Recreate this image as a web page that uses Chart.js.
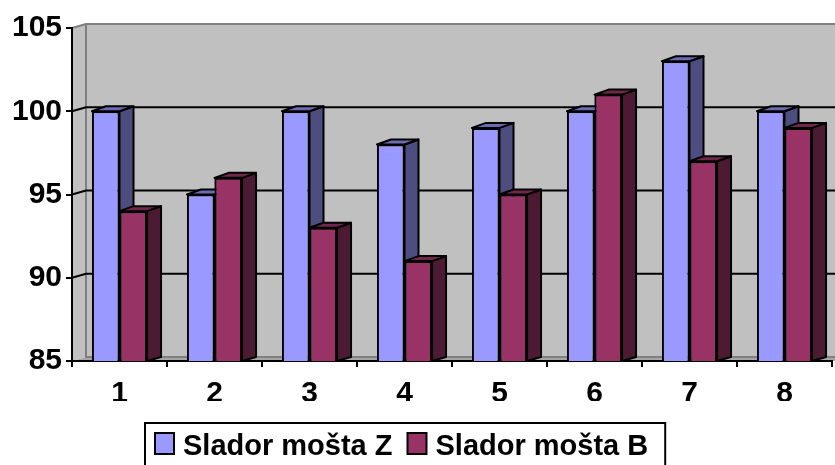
<!DOCTYPE html>
<html>
<head>
<meta charset="utf-8">
<script src="https://cdn.jsdelivr.net/npm/chart.js@4.4.1/dist/chart.umd.min.js"></script>
<style>
    html, body { margin: 0; padding: 0; background: #ffffff; }
    canvas { display: block; }
</style>
</head>
<body>
<canvas id="sladorChart" width="835" height="465"></canvas>
<script>
// Data
const categories = ['1', '2', '3', '4', '5', '6', '7', '8'];
const sladorZ = [100, 95, 100, 98, 99, 100, 103, 100];
const sladorB = [94, 96, 93, 91, 95, 101, 97, 99];
const yMin = 85;
const yMax = 105;
const yStep = 5;

const seriesNames = ['Slador mošta Z', 'Slador mošta B'];
const frontColors = ['#9999ff', '#993366'];
const sideColors = ['#4d4d80', '#4d1a33'];
const topColors = ['#6b6bb3', '#73264d'];

const FONT = 'Arial, "Liberation Sans", sans-serif';
const DX = 14;   // 3d depth, horizontal
const DY = -4;   // 3d depth, vertical

function drawDepth(ctx, bar, i, bottom) {
    const p = bar.getProps(['x', 'y', 'base', 'width'], true);
    const l = p.x - p.width / 2;
    const r = p.x + p.width / 2;
    const b = Math.min(p.base, bottom);
    // side
    ctx.fillStyle = sideColors[i];
    ctx.beginPath();
    ctx.moveTo(r, p.y);
    ctx.lineTo(r + DX, p.y + DY - 1);
    ctx.lineTo(r + DX, b + DY);
    ctx.lineTo(r, b);
    ctx.closePath();
    ctx.fill();
    ctx.stroke();
    // top
    ctx.fillStyle = topColors[i];
    ctx.beginPath();
    ctx.moveTo(l, p.y);
    ctx.lineTo(l + DX, p.y + DY - 1);
    ctx.lineTo(r + DX, p.y + DY - 1);
    ctx.lineTo(r, p.y);
    ctx.closePath();
    ctx.fill();
    ctx.stroke();
}

// Back wall, side wall, floor and gridlines + bar depth + boxed legend
const wallPlugin = {
    id: 'wall3d',
    beforeDraw(chart) {
        const ctx = chart.ctx;
        const a = chart.chartArea;
        const y = chart.scales.y;
        ctx.save();
        // back wall
        ctx.fillStyle = '#c0c0c0';
        ctx.fillRect(a.left + DX, a.top + DY, chart.width - a.left - DX, a.bottom - a.top);
        // side wall
        ctx.beginPath();
        ctx.moveTo(a.left, a.top);
        ctx.lineTo(a.left + DX, a.top + DY);
        ctx.lineTo(a.left + DX, a.bottom + DY);
        ctx.lineTo(a.left, a.bottom);
        ctx.closePath();
        ctx.fill();
        // floor
        ctx.fillStyle = '#a6a6a6';
        ctx.beginPath();
        ctx.moveTo(a.left, a.bottom);
        ctx.lineTo(a.left + DX, a.bottom + DY);
        ctx.lineTo(chart.width, a.bottom + DY);
        ctx.lineTo(chart.width, a.bottom);
        ctx.closePath();
        ctx.fill();
        // wall edges
        ctx.strokeStyle = '#808080';
        ctx.lineWidth = 2;
        ctx.beginPath();
        ctx.moveTo(a.left, a.top);
        ctx.lineTo(a.left + DX, a.top + DY);
        ctx.lineTo(chart.width, a.top + DY);
        ctx.moveTo(a.left + DX, a.top + DY);
        ctx.lineTo(a.left + DX, a.bottom + DY);
        ctx.lineTo(chart.width, a.bottom + DY);
        ctx.stroke();
        // gridlines
        ctx.strokeStyle = '#000000';
        y.ticks.forEach(t => {
            if (t.value <= yMin || t.value >= yMax) return;
            const py = y.getPixelForValue(t.value);
            ctx.beginPath();
            ctx.moveTo(a.left, py);
            ctx.lineTo(a.left + DX, py + DY);
            ctx.lineTo(chart.width, py + DY);
            ctx.stroke();
        });
        ctx.restore();
    },
    afterDatasetsDraw(chart) {
        const ctx = chart.ctx;
        const a = chart.chartArea;
        const metaZ = chart.getDatasetMeta(0);
        const metaB = chart.getDatasetMeta(1);
        ctx.save();
        ctx.strokeStyle = '#000000';
        ctx.lineWidth = 2;
        ctx.lineJoin = 'round';
        metaZ.data.forEach((barZ, k) => {
            const barB = metaB.data[k];
            drawDepth(ctx, barZ, 0, a.bottom);
            // front of the second bar goes over the first bar's side
            ctx.save();
            ctx.beginPath();
            ctx.rect(a.left, 0, a.right - a.left, a.bottom);
            ctx.clip();
            barB.draw(ctx);
            ctx.restore();
            ctx.strokeStyle = '#000000';
            ctx.lineWidth = 2;
            drawDepth(ctx, barB, 1, a.bottom);
        });
        ctx.restore();
    },
    afterDraw(chart) {
        const ctx = chart.ctx;
        ctx.save();
        ctx.font = 'bold 29px ' + FONT;
        ctx.textBaseline = 'alphabetic';
        const x0 = 145, y0 = 423;
        let x = x0 + 10;
        const items = chart.data.datasets.map(ds => {
            const item = { x: x, label: ds.label, color: ds.backgroundColor };
            x += 20 + 8 + ctx.measureText(ds.label).width + 15;
            return item;
        });
        const w = x - 15 + 17 - x0;
        ctx.fillStyle = '#ffffff';
        ctx.fillRect(x0, y0, w, 60);
        ctx.strokeStyle = '#000000';
        ctx.lineWidth = 2;
        ctx.strokeRect(x0, y0, w, 60);
        items.forEach(it => {
            ctx.fillStyle = it.color;
            ctx.fillRect(it.x, 433, 19, 21);
            ctx.strokeRect(it.x, 433, 19, 21);
            ctx.fillStyle = '#000000';
            ctx.fillText(it.label, it.x + 28, 455);
        });
        ctx.restore();
    }
};

const ctx = document.getElementById('sladorChart').getContext('2d');
const chart = new Chart(ctx, {
    type: 'bar',
    data: {
        labels: categories,
        datasets: [
            {
                label: seriesNames[0],
                data: sladorZ,
                backgroundColor: frontColors[0],
                borderColor: '#000000',
                borderWidth: 2,
                barPercentage: 1,
                categoryPercentage: 0.58
            },
            {
                label: seriesNames[1],
                data: sladorB,
                backgroundColor: frontColors[1],
                borderColor: '#000000',
                borderWidth: 2,
                barPercentage: 1,
                categoryPercentage: 0.58
            }
        ]
    },
    options: {
        responsive: false,
        animation: false,
        layout: {
            padding: { left: 0, top: 28, right: 3, bottom: 64 }
        },
        plugins: {
            legend: { display: false },
            tooltip: { enabled: false }
        },
        scales: {
            x: {
                grid: {
                    offset: true,
                    drawOnChartArea: false,
                    tickLength: 6,
                    color: '#000000',
                    lineWidth: 2
                },
                border: { color: '#000000', width: 2 },
                ticks: {
                    color: '#000000',
                    padding: 9,
                    font: { family: FONT, size: 30, weight: 'bold' }
                },
                afterFit(scale) { scale.height = 40; }
            },
            y: {
                min: yMin,
                max: yMax,
                grid: {
                    drawOnChartArea: false,
                    tickLength: 6,
                    color: '#000000',
                    lineWidth: 2
                },
                border: { color: '#000000', width: 2 },
                ticks: {
                    stepSize: yStep,
                    color: '#000000',
                    padding: 4,
                    font: { family: FONT, size: 30, weight: 'bold' }
                },
                afterFit(scale) { scale.width = 72; }
            }
        }
    },
    plugins: [wallPlugin]
});
</script>
</body>
</html>
